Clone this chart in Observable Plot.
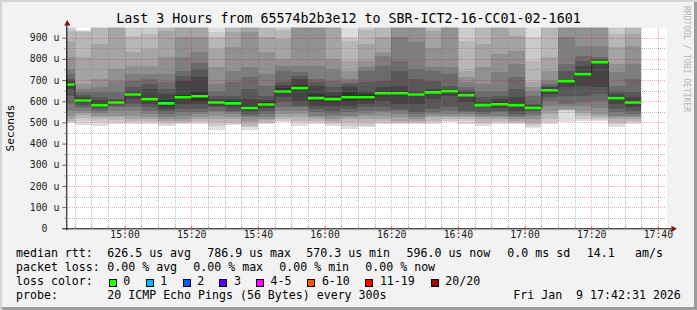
<!DOCTYPE html>
<html><head><meta charset="utf-8">
<script src="https://cdn.jsdelivr.net/npm/d3@7"></script>
<script src="https://cdn.jsdelivr.net/npm/@observablehq/plot@0.6"></script>
<style>
html,body{margin:0;padding:0;background:#f2f2f2;}
#wrap{position:relative;width:697px;height:310px;background:#f2f2f2;overflow:hidden;
  font-family:"DejaVu Sans Mono",monospace;color:#000;
  box-shadow: inset 2px 2px 0 #d4d4d4, inset -3px -3px 0 #9c9c9c;}
#chart{position:absolute;left:0;top:0;}
.t{position:absolute;white-space:pre;line-height:1;}
.lg{font-size:11.6px;line-height:11.6px;}
.sq{position:absolute;width:6px;height:6px;border:1px solid #000;}
</style>
</head><body>
<div id="wrap">
  <div id="chart"></div>
  <div id="title" class="t" style="left:0;width:697px;text-align:center;top:12.2px;font-size:13.3px;line-height:13.3px;"></div>
  <div id="ylab" class="t" style="left:10.5px;top:127.5px;font-size:11.2px;transform:translate(-50%,-50%) rotate(-90deg);"></div>
  <div id="rrd" class="t" style="left:686px;top:59px;font-size:8px;color:#b4b4b4;transform:translate(-50%,-50%) rotate(90deg);"></div>
  <div id="legend"></div>
</div>
<script>
// ---------------- data ----------------
const titleText = "Last 3 Hours from 65574b2b3e12 to SBR-ICT2-16-CC01-02-1601";
const yAxisTitle = "Seconds";
const windowStart = "14:42:31";
const windowEnd = "17:42:31";
const bucketStarts = ["14:40","14:45","14:50","14:55","15:00","15:05","15:10","15:15","15:20","15:25","15:30","15:35",
  "15:40","15:45","15:50","15:55","16:00","16:05","16:10","16:15","16:20","16:25","16:30","16:35",
  "16:40","16:45","16:50","16:55","17:00","17:05","17:10","17:15","17:20","17:25","17:30"];
// median rtt per 5-minute step (microseconds)
const medians = [681,606,584,596,634,612,592,621,626,596,592,570.3,587,648,664,617,612,621,621,640,
  640,634,644,650,631,584,588,584,571,654,697,730,786.9,617,596.0];
// 20 sorted ping rtts per step (microseconds)
const pings = [
 [497,503,508,516,532,555,587,626,658,675,688,694,705,729,752,807,886,933,950,970],
 [489,505,521,537,545,552,566,579,590,600,609,618,631,642,658,681,807,925,930,936],
 [485,500,516,524,532,542,552,562,572,580,590,605,618,642,666,705,870,960,975,990],
 [492,503,513,524,532,552,571,579,587,592,600,605,611,642,697,752,955,965,980,995],
 [492,500,508,516,532,556,571,587,611,630,639,650,666,697,729,768,831,910,955,975],
 [492,500,508,516,524,540,555,571,587,603,621,658,681,705,729,768,847,917,955,975],
 [485,492,500,508,516,527,540,552,563,579,605,634,658,689,729,807,933,955,970,990],
 [492,496,500,508,516,532,548,563,587,611,631,697,721,744,807,902,955,970,985,1000],
 [492,500,508,516,524,540,548,563,587,603,650,713,752,780,831,902,955,970,985,1000],
 [464,485,500,516,532,548,556,571,579,590,603,611,626,650,681,760,847,902,925,960],
 [490,494,500,516,524,540,548,556,571,584,600,611,626,689,744,854,925,955,970,990],
 [464,477,485,500,508,524,532,540,552,562,579,611,658,713,760,925,960,975,990,1005],
 [492,496,500,512,516,524,540,556,567,579,595,606,626,673,729,831,902,955,970,990],
 [500,508,516,524,540,556,571,595,618,637,663,677,689,744,768,799,894,936,960,980],
 [485,500,508,524,540,556,571,579,603,650,677,705,720,736,768,955,965,980,995,1010],
 [492,500,508,516,524,532,548,563,579,600,634,673,689,705,768,955,965,980,995,1010],
 [485,492,500,508,516,532,540,556,579,598,626,642,666,697,752,799,955,970,985,1000],
 [469,485,500,516,524,532,548,563,579,600,642,666,681,689,705,744,792,886,902,960],
 [477,485,500,516,532,540,556,571,587,608,634,650,689,744,760,792,870,936,960,980],
 [492,496,508,516,532,548,556,571,603,630,650,666,697,768,815,831,902,955,970,990],
 [492,496,500,508,524,540,552,563,587,630,650,673,744,791,902,955,965,980,995,1010],
 [492,496,500,508,516,524,540,548,587,630,639,650,705,752,878,955,965,980,995,1010],
 [492,500,508,524,532,540,548,563,611,638,650,658,697,744,760,850,930,955,970,990],
 [500,508,516,524,532,540,556,571,626,644,656,658,673,729,760,955,965,980,995,1010],
 [492,508,516,524,532,540,548,555,595,625,637,642,653,666,689,713,744,886,955,975],
 [485,492,500,516,524,532,540,548,571,580,587,595,618,650,681,760,870,955,970,990],
 [492,500,508,516,524,532,548,556,567,580,595,611,626,650,736,823,955,970,985,1000],
 [492,496,500,508,516,524,532,540,556,578,590,618,658,713,776,839,910,955,970,990],
 [474,485,492,500,516,532,540,552,560,566,576,580,587,626,650,666,689,791,902,960],
 [492,500,516,540,556,579,603,618,634,650,658,666,673,681,697,744,807,955,970,990],
 [500,555,557,560,563,575,587,626,666,692,702,705,744,776,902,955,965,980,995,1010],
 [508,516,530,545,555,575,595,626,673,721,736,768,790,815,862,955,965,980,995,1010],
 [508,512,520,530,540,570,603,634,666,783,791,795,800,807,862,955,965,980,995,1010],
 [480,492,500,516,524,532,548,563,587,608,626,634,650,673,736,776,855,917,960,980],
 [492,500,508,516,524,532,540,556,571,592,600,618,642,705,776,862,917,955,975,995]
];
const xTickLabels = ["15:00","15:20","15:40","16:00","16:20","16:40","17:00","17:20","17:40"];
const yTickValues = [0,100,200,300,400,500,600,700,800,900];
const yTickLabels = ["0","100 u","200 u","300 u","400 u","500 u","600 u","700 u","800 u","900 u"];
const yMax = 947;
const legendLine1 = [["median rtt:",16],["626.5 us avg",107.3],["786.9 us max",207.3],["570.3 us min",306.3],
  ["596.0 us now",406.5],["0.0 ms sd",507.3],["14.1",586.7],["am/s",635]];
const legendLine2 = [["packet loss:",16],["0.00 % avg",107.3],["0.00 % max",193.3],["0.00 % min",279.3],["0.00 % now",365.3]];
const lossLabels = ["0","1","2","3","4-5","6-10","11-19","20/20"];
const lossColors = ["#26ff00","#00b8ff","#0059ff","#5e00ff","#ff00ff","#ff5500","#ff0000","#a10000"];
const probeText = "20 ICMP Echo Pings (56 Bytes) every 300s";
const dateText = "Fri Jan  9 17:42:31 2026";

// ---------------- helpers ----------------
const toMin = s => { const [h,m,sec=0] = s.split(":").map(Number); return h*60 + m + sec/60; };
const step = 5;
const x0 = toMin(windowStart), x1 = toMin(windowEnd);
const gray = k => { const c = Math.floor(190/10*(10-k)) + 50; return `rgb(${c},${c},${c})`; };

const smoke = [];
bucketStarts.forEach((s, i) => {
  const a = toMin(s), b = a + step, p = pings[i];
  for (let k = 1; k <= 10; k++) smoke.push({x1: a, x2: b, y1: p[k-1], y2: p[20-k], fill: gray(k)});
});
const med = bucketStarts.map((s, i) => ({x1: toMin(s), x2: toMin(s) + step, m: medians[i]}));
const medLine = med.map(d => ({x: d.x1, m: d.m})).concat([{x: med[med.length-1].x2, m: medians[medians.length-1]}]);

const majorX = xTickLabels.map(toMin);
const allMinorX = d3.range(Math.ceil(x0/step)*step, x1, step);
const minorX = allMinorX.filter(v => !majorX.includes(v));
const majorY = yTickValues.filter(v => v > 0);
const minorY = yTickValues.map(v => v + 50).filter(v => v < yMax);
const yLabelRows = yTickValues.map((v, i) => ({v, label: yTickLabels[i]}));

const FONT = "DejaVu Sans Mono";
const gridMinor = {stroke: "rgba(120,120,120,0.5)", strokeDasharray: "1,1", shapeRendering: "crispEdges"};
const gridMajor = {stroke: "rgba(230,0,0,0.32)", strokeDasharray: "1,1", shapeRendering: "crispEdges"};
const chart = Plot.plot({
  width: 697, height: 310,
  marginLeft: 66.3, marginRight: 697 - 666.3, marginTop: 27.7, marginBottom: 310 - 228.3,
  x: {domain: [x0, x1], axis: null},
  y: {domain: [0, yMax], axis: null},
  color: {type: "identity"},
  style: {background: "transparent", fontFamily: FONT, overflow: "visible"},
  marks: [
    Plot.frame({fill: "white", stroke: "none"}),
    Plot.rect(smoke, {x1: "x1", x2: "x2", y1: "y1", y2: "y2", fill: "fill", clip: true, shapeRendering: "crispEdges"}),
    Plot.line(medLine, {x: "x", y: "m", curve: "step-after", stroke: "#202020", strokeWidth: 1, clip: true}),
    Plot.ruleY(minorY, gridMinor),
    Plot.ruleY(majorY, gridMajor),
    Plot.ruleX(minorX, gridMinor),
    Plot.ruleX(majorX, gridMajor),
    Plot.ruleY(med, {y: "m", x1: "x1", x2: "x2", stroke: "#26ff00", strokeWidth: 2.6, clip: true}),
    // axis lines, ticks and arrows
    Plot.ruleX([x0], {stroke: "#000", insetTop: -6, insetBottom: -2}),
    Plot.ruleY([0], {stroke: "#000", insetLeft: -4, insetRight: -6}),
    Plot.ruleY(majorY, {x1: x0, x2: x0, insetLeft: -4, stroke: "#666"}),
    Plot.ruleY(minorY, {x1: x0, x2: x0, insetLeft: -2, stroke: "#999"}),
    Plot.ruleX(majorX, {y1: 0, y2: 0, insetBottom: -3, insetTop: -2, stroke: "#e04040"}),
    Plot.ruleX(minorX, {y1: 0, y2: 0, insetBottom: -2, insetTop: -2, stroke: "#999"}),
    Plot.dot([0], {frameAnchor: "top-left", dx: 0.5, dy: -4.5, symbol: "triangle", r: 2.3, fill: "#8b1111", stroke: "none"}),
    Plot.dot([0], {frameAnchor: "bottom-right", dx: 6.5, symbol: "triangle", rotate: 90, r: 2.3, fill: "#8b1111", stroke: "none"}),
    // tick labels
    Plot.text(yLabelRows.filter(d => d.v > 0), {y: "v", text: "label", frameAnchor: "left", dx: -7.5, textAnchor: "end",
      fontSize: 9.8, fontFamily: FONT, fill: "#1a1a1a"}),
    Plot.text(yLabelRows.filter(d => d.v === 0), {y: "v", text: "label", frameAnchor: "left", dx: -19.3, textAnchor: "end",
      fontSize: 9.8, fontFamily: FONT, fill: "#1a1a1a"}),
    Plot.text(xTickLabels, {x: d => toMin(d), text: d => d, frameAnchor: "bottom", dy: 9.6,
      fontSize: 9.8, fontFamily: FONT, fill: "#1a1a1a"})
  ]
});
document.getElementById("chart").appendChild(chart);

// ---------------- title, axis title, legend ----------------
document.getElementById("title").textContent = titleText;
document.getElementById("ylab").textContent = yAxisTitle;
document.getElementById("rrd").textContent = "RRDTOOL / TOBI OETIKER";

const legend = document.getElementById("legend");
const F = 11.6, baseOff = 0.846 * F;
const baselines = [258.3, 272.15, 286.0, 299.85];
function addText(txt, x, row) {
  const d = document.createElement("div");
  d.className = "t lg";
  d.style.left = x + "px";
  d.style.top = (baselines[row] - baseOff) + "px";
  d.textContent = txt;
  legend.appendChild(d);
}
legendLine1.forEach(([t, x]) => addText(t, x, 0));
legendLine2.forEach(([t, x]) => addText(t, x, 1));
addText("loss color:", 16, 2);
const sqX = [108.7, 145.7, 182.7, 219.3, 256.0, 307.3, 365.3, 430.7];
lossLabels.forEach((lab, i) => {
  const s = document.createElement("div");
  s.className = "sq";
  s.style.left = sqX[i] + "px";
  s.style.top = "279px";
  s.style.background = lossColors[i];
  legend.appendChild(s);
  addText(lab, sqX[i] + 14.6, 2);
});
addText("probe:", 16, 3);
addText(probeText, 107.3, 3);
addText(dateText, 513.3, 3);
</script>
</body></html>
